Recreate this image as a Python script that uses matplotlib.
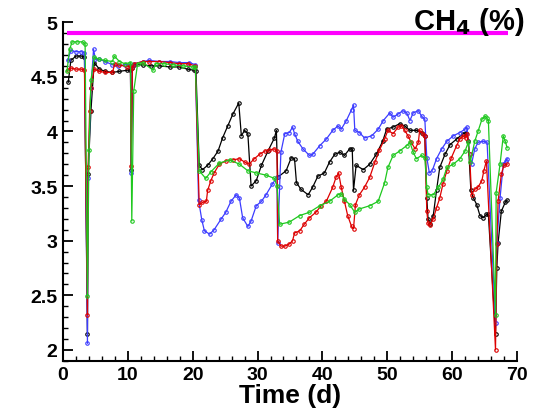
import matplotlib
matplotlib.use("Agg")
from matplotlib import pyplot as plt
from matplotlib.ticker import MultipleLocator, FormatStrFormatter

plt.rcParams['font.family'] = ['Liberation Sans', 'DejaVu Sans']
plt.rcParams['font.weight'] = 'bold'

# reference level (magenta)
ref_t = [0.6, 68.6]
ref_v = [4.9, 4.9]

# black series
black_t = [0.8, 1.2, 2.0, 2.8, 3.3, 3.76, 3.86, 4.3, 4.8, 5.6, 6.5, 7.6, 8.7, 9.9, 10.4, 10.5, 10.7,
           11.0, 12.3, 13.5, 14.8, 16.5, 17.9, 19.2, 20.2, 20.5, 21.0, 21.5, 22.3, 23.1, 23.9, 24.6,
           25.4, 26.2, 27.1, 27.5, 28.0, 28.5, 29.0, 29.8, 30.6, 31.6, 32.6, 32.9, 33.1, 34.4, 35.2,
           35.7, 36.0, 36.7, 37.8, 38.5, 39.3, 40.3, 41.1, 41.9, 42.7, 43.4, 44.2, 44.6, 44.8, 45.2,
           46.3, 47.3, 48.3, 49.3, 49.9, 50.9, 51.9, 52.7, 53.5, 54.5, 55.3, 55.8, 56.1, 56.3, 56.6,
           57.1, 57.6, 58.1, 58.9, 59.7, 60.7, 61.7, 62.2, 62.5, 62.9, 63.3, 63.8, 64.3, 64.8, 65.3,
           65.6, 66.7, 66.9, 67.1, 67.6, 68.2, 68.5]
black_v = [4.45, 4.65, 4.69, 4.69, 4.68, 2.15, 3.61, 4.19, 4.63, 4.57, 4.55, 4.54, 4.55, 4.56, 4.56, 3.65, 4.58,
           4.61, 4.61, 4.60, 4.60, 4.59, 4.59, 4.57, 4.56, 4.55, 3.69, 3.65, 3.69, 3.75, 3.82, 3.94,
           4.05, 4.16, 4.26, 3.96, 4.01, 3.98, 3.50, 3.55, 3.69, 3.82, 3.94, 4.01, 3.58, 3.64, 3.76,
           3.75, 3.53, 3.47, 3.42, 3.49, 3.59, 3.62, 3.72, 3.79, 3.81, 3.78, 3.84, 3.84, 3.46, 3.69,
           3.65, 3.70, 3.79, 3.91, 4.02, 4.04, 4.07, 4.05, 4.01, 4.01, 3.99, 3.96, 3.39, 3.20, 3.15,
           3.23, 3.46, 3.67, 3.79, 3.88, 3.93, 3.98, 3.99, 3.91, 3.46, 3.39, 3.33, 3.23, 3.21, 3.24,
           3.24, 2.15, 2.75, 2.98, 3.27, 3.35, 3.37]

# blue series
blue_t = [0.7, 1.2, 2.0, 2.8, 3.3, 3.76, 3.86, 4.3, 4.7, 5.0, 5.6, 6.5, 7.6, 8.5, 9.5, 10.4, 10.5, 10.7,
          11.0, 12.3, 13.3, 14.8, 16.5, 17.9, 19.5, 20.4, 20.9, 21.4, 21.8, 22.6, 23.3, 24.4, 25.1,
          25.9, 26.7, 27.2, 27.7, 28.5, 29.0, 29.8, 30.6, 31.3, 32.3, 33.0, 33.1, 33.4, 33.6, 34.2,
          34.9, 35.4, 35.7, 36.2, 37.0, 38.0, 38.5, 39.6, 40.6, 41.6, 42.4, 42.9, 43.7, 44.5, 44.8,
          45.0, 45.7, 46.5, 47.6, 48.6, 49.4, 50.4, 50.9, 51.7, 52.4, 53.0, 53.5, 54.0, 54.8, 55.3,
          55.8, 56.1, 56.5, 57.0, 57.6, 58.4, 59.2, 60.2, 61.2, 62.0, 62.3, 62.7, 63.0, 63.5, 64.0,
          64.8, 65.4, 66.7, 66.9, 67.4, 67.9, 68.3, 68.5]
blue_v = [4.65, 4.74, 4.73, 4.73, 4.72, 2.06, 3.57, 4.40, 4.75, 4.66, 4.66, 4.64, 4.61, 4.60, 4.61, 4.61, 3.62, 4.60,
          4.62, 4.64, 4.65, 4.64, 4.64, 4.63, 4.63, 4.61, 3.37, 3.19, 3.09, 3.06, 3.10, 3.20, 3.26,
          3.36, 3.42, 3.39, 3.21, 3.13, 3.18, 3.32, 3.36, 3.42, 3.52, 3.58, 2.98, 3.49, 3.81, 3.98,
          3.99, 4.04, 3.98, 3.91, 3.84, 3.78, 3.79, 3.87, 3.93, 4.01, 4.05, 4.02, 4.10, 4.20, 4.24,
          4.01, 3.99, 3.94, 3.96, 4.02, 4.10, 4.17, 4.13, 4.16, 4.19, 4.17, 4.10, 4.17, 4.19, 4.14,
          4.11, 3.76, 3.62, 3.65, 3.75, 3.84, 3.91, 3.96, 3.99, 4.02, 4.04, 3.79, 3.70, 3.84, 3.90,
          3.91, 3.90, 2.25, 2.98, 3.39, 3.70, 3.73, 3.75]

# red series
red_t = [0.7, 1.2, 2.0, 2.8, 3.3, 3.76, 3.86, 4.1, 4.3, 4.8, 5.6, 6.5, 7.6, 8.0, 8.7, 9.9, 10.4, 10.5, 10.7,
         11.0, 12.3, 13.3, 14.8, 16.5, 17.9, 19.2, 20.4, 21.0, 21.5, 22.1, 22.3, 22.8, 23.3, 24.1,
         25.1, 26.2, 27.2, 28.0, 28.7, 29.5, 30.3, 31.1, 31.8, 32.6, 33.0, 33.1, 33.6, 34.2, 34.9,
         35.4, 35.7, 36.5, 37.2, 38.0, 39.0, 39.8, 40.6, 41.6, 42.1, 42.5, 42.9, 43.4, 43.9, 44.5,
         44.8, 45.1, 45.7, 46.5, 47.3, 48.1, 48.8, 49.6, 50.1, 50.9, 51.7, 52.2, 52.7, 53.2, 53.7,
         54.3, 54.8, 55.0, 55.5, 55.8, 56.1, 56.3, 56.6, 57.1, 57.6, 58.1, 58.6, 59.2, 59.9, 60.7,
         61.2, 61.7, 62.1, 62.3, 62.7, 63.0, 63.5, 64.0, 64.6, 64.9, 65.3, 66.7, 66.9, 67.1, 67.6,
         68.0, 68.5]
red_v = [4.56, 4.58, 4.57, 4.57, 4.56, 2.32, 3.67, 4.19, 4.40, 4.57, 4.55, 4.54, 4.54, 4.62, 4.61, 4.59, 4.60, 3.68, 4.58,
         4.62, 4.64, 4.64, 4.64, 4.63, 4.62, 4.62, 4.60, 3.33, 3.35, 3.36, 3.46, 3.55, 3.62, 3.70,
         3.73, 3.74, 3.75, 3.72, 3.70, 3.75, 3.79, 3.82, 3.83, 3.84, 3.82, 3.00, 2.95, 2.95, 2.97,
         3.00, 3.07, 3.09, 3.15, 3.21, 3.26, 3.32, 3.36, 3.49, 3.58, 3.62, 3.49, 3.36, 3.23, 3.13,
         3.11, 3.33, 3.42, 3.49, 3.58, 3.72, 3.83, 3.93, 4.01, 3.98, 4.04, 4.05, 4.01, 3.96, 3.90,
         3.84, 3.90, 4.01, 3.98, 3.96, 3.27, 3.16, 3.14, 3.20, 3.30, 3.39, 3.52, 3.64, 3.76, 3.87,
         3.93, 3.96, 3.94, 3.98, 3.79, 3.42, 3.47, 3.49, 3.55, 3.64, 3.73, 2.00, 2.97, 3.36, 3.61,
         3.69, 3.70]

# green series
green_t = [0.6, 1.0, 1.4, 2.2, 3.0, 3.4, 3.76, 4.0, 4.3, 4.8, 5.6, 6.5, 7.6, 7.9, 8.7, 9.5, 10.4, 10.6, 10.9,
           11.5, 12.3, 13.9, 14.3, 15.5, 17.0, 18.5, 20.0, 20.4, 21.0, 22.0, 22.8, 24.1, 25.7, 27.2,
           28.5, 29.8, 31.3, 32.6, 33.0, 33.4, 34.9, 36.5, 38.0, 39.6, 41.1, 42.4, 42.9, 43.4, 44.2,
           45.0, 45.7, 47.3, 48.6, 49.6, 50.1, 50.9, 51.9, 53.0, 53.5, 54.0, 54.5, 55.3, 55.8, 56.1,
           56.3, 57.1, 57.9, 58.6, 59.2, 60.2, 61.2, 62.0, 62.5, 62.8, 63.5, 64.0, 64.6, 65.1, 65.4,
           65.6, 66.7, 66.8, 67.4, 67.9, 68.2, 68.5]
green_v = [4.55, 4.75, 4.82, 4.82, 4.82, 4.80, 2.49, 3.83, 4.47, 4.68, 4.66, 4.65, 4.64, 4.69, 4.64, 4.62, 4.63, 3.18, 4.37,
           4.62, 4.63, 4.56, 4.62, 4.62, 4.61, 4.60, 4.59, 4.59, 3.64, 3.57, 3.63, 3.71, 3.74, 3.70,
           3.64, 3.62, 3.60, 3.57, 3.50, 3.15, 3.17, 3.23, 3.26, 3.32, 3.36, 3.42, 3.43, 3.38, 3.33,
           3.26, 3.29, 3.32, 3.36, 3.53, 3.67, 3.78, 3.82, 3.87, 3.90, 3.81, 3.75, 3.78, 3.76, 3.49,
           3.42, 3.42, 3.49, 3.56, 3.67, 3.70, 3.75, 3.82, 3.90, 3.72, 3.91, 4.00, 4.11, 4.14, 4.12,
           4.10, 2.32, 3.44, 3.70, 3.96, 3.91, 3.85]

fig = plt.figure(figsize=(5.39, 4.14), dpi=100)
ax = fig.add_axes([0.117, 0.126, 0.842, 0.818])

ax.plot(ref_t, ref_v, color='#ff00ff', lw=3, solid_capstyle='butt')

style = dict(lw=0.9, marker='o', markersize=2.5, markerfacecolor='none', markeredgewidth=0.8)
ax.plot(black_t, black_v, color='black', **style)
ax.plot(blue_t, blue_v, color='#3c3cff', **style)
ax.plot(red_t, red_v, color='#dd0000', **style)
ax.plot(green_t, green_v, color='#1ec81e', **style)

ax.set_xlim(0, 70)
ax.set_ylim(1.9, 5.0)
ax.spines['top'].set_visible(False)
ax.spines['right'].set_visible(False)
for s in ['left', 'bottom']:
    ax.spines[s].set_linewidth(1.5)

ax.xaxis.set_major_locator(MultipleLocator(10))
ax.xaxis.set_minor_locator(MultipleLocator(2))
ax.yaxis.set_major_locator(MultipleLocator(0.5))
ax.yaxis.set_minor_locator(MultipleLocator(0.1))
ax.yaxis.set_major_formatter(FormatStrFormatter('%g'))
ax.tick_params(which='major', direction='in', length=7, width=1.3, labelsize=14, pad=4)
ax.tick_params(which='minor', direction='in', length=3.5, width=1.0)
for lab in ax.get_xticklabels() + ax.get_yticklabels():
    lab.set_fontweight('bold')

ax.set_xlabel('Time (d)', fontsize=19, fontweight='bold', labelpad=0)
fig.text(0.972, 0.928, 'CH$_\\mathbf{4}$ (%)', fontsize=21, fontweight='bold', ha='right', va='baseline')

fig.savefig('out.png', dpi=100)
